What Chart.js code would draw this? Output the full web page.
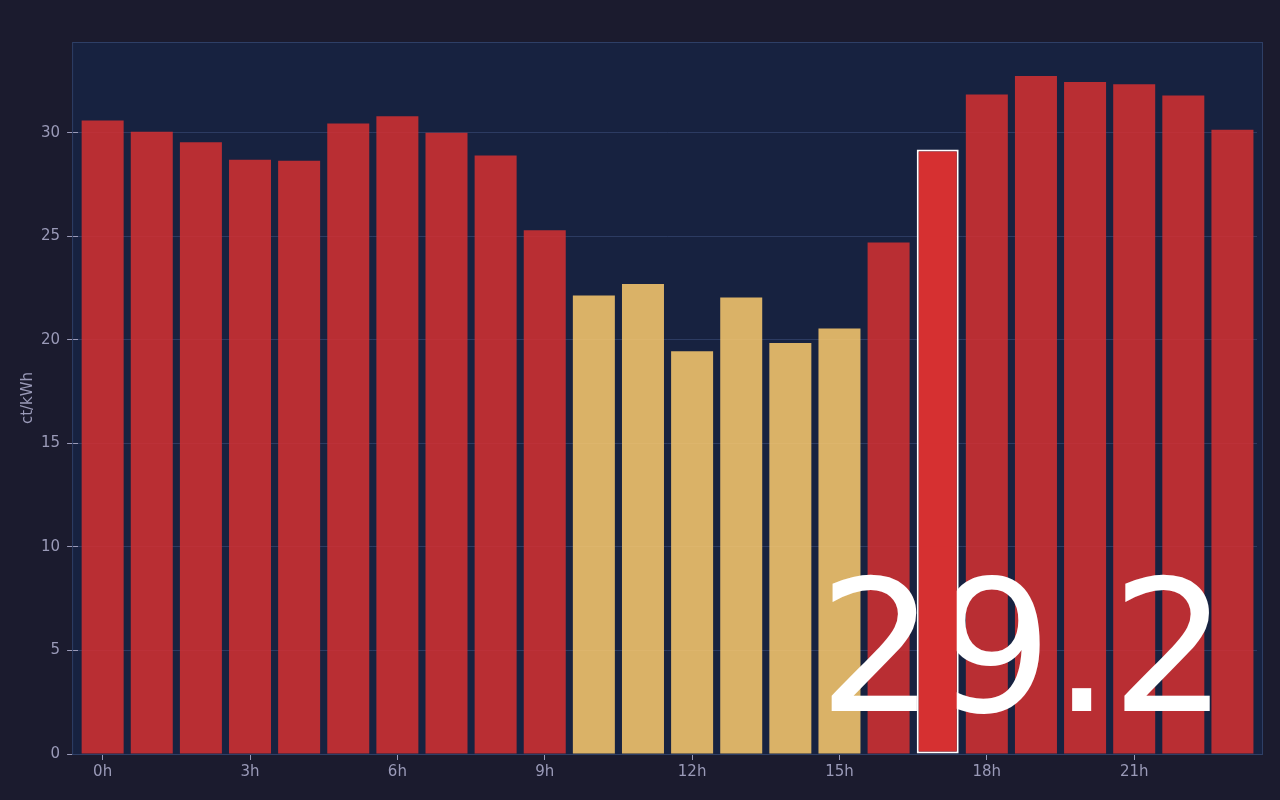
<!DOCTYPE html>
<html>
<head>
<meta charset="utf-8">
<script src="https://cdn.jsdelivr.net/npm/chart.js@4.4.1/dist/chart.umd.min.js"></script>
<style>
  html, body { margin: 0; padding: 0; background: #1b1b2e; }
  #wrap { width: 1280px; height: 800px; }
</style>
</head>
<body>
<div id="wrap"><canvas id="priceChart"></canvas></div>
<script>
// hourly prices, ct/kWh
var hours = ['0h','1h','2h','3h','4h','5h','6h','7h','8h','9h','10h','11h',
             '12h','13h','14h','15h','16h','17h','18h','19h','20h','21h','22h','23h'];
var prices = [30.6, 30.05, 29.55, 28.7, 28.65, 30.45, 30.8, 30.0, 28.9, 25.3, 22.15, 22.7,
              19.45, 22.05, 19.85, 20.55, 24.7, 29.2, 31.85, 32.75, 32.45, 32.35, 31.8, 30.15];
var cheapHours = [10, 11, 12, 13, 14, 15];
var currentHour = 17;

// other hours, and the current hour on its own so it can sit above the big number
var otherPrices = prices.map(function (v, i) { return i === currentHour ? null : v; });
var nowPrices = prices.map(function (v, i) { return i === currentHour ? v : null; });
var barColors = prices.map(function (v, i) {
    return cheapHours.indexOf(i) >= 0 ? 'rgba(253,203,110,0.85)' : 'rgba(214,48,49,0.85)';
});

// panel is a bit wider than the bar area
var SIDE = 6;
var plotBg = {
    id: 'plotBg',
    beforeDraw: function (chart) {
        var a = chart.chartArea, c = chart.ctx;
        c.save();
        c.fillStyle = '#172240';
        c.fillRect(a.left - SIDE, a.top, a.right - a.left + 2 * SIDE, a.bottom - a.top);
        c.restore();
    },
    afterDraw: function (chart) {
        var a = chart.chartArea, c = chart.ctx;
        c.save();
        c.strokeStyle = '#2e3f66';
        c.lineWidth = 1;
        c.strokeRect(a.left - SIDE + 0.5, a.top + 0.5, a.right - a.left + 2 * SIDE - 1, a.bottom - a.top);
        c.restore();
    }
};

// big current value, drawn after the ordinary bars but under the current-hour bar
var bigValue = {
    id: 'bigValue',
    afterDatasetDraw: function (chart, args) {
        if (args.index !== 0) return;
        var a = chart.chartArea, c = chart.ctx;
        c.save();
        c.fillStyle = '#ffffff';
        c.font = '184px "DejaVu Sans"';
        c.textAlign = 'right';
        c.textBaseline = 'alphabetic';
        c.fillText(prices[currentHour].toFixed(1), a.right - 29, a.bottom - 43);
        c.restore();
    }
};

var ctx = document.getElementById('priceChart').getContext('2d');
var priceChart = new Chart(ctx, {
    type: 'bar',
    data: {
        labels: hours,
        datasets: [{
            label: 'ct/kWh',
            data: otherPrices,
            backgroundColor: barColors,
            borderWidth: 0,
            barPercentage: 0.855,
            categoryPercentage: 1.0,
            order: 1
        }, {
            label: 'jetzt',
            data: nowPrices,
            backgroundColor: '#d63031',
            borderColor: '#ffffff',
            borderWidth: 2,
            borderSkipped: false,
            barPercentage: 0.855,
            categoryPercentage: 1.0,
            order: 0
        }]
    },
    options: {
        responsive: true,
        maintainAspectRatio: false,
        animation: false,
        layout: { padding: { top: 42, right: 23, left: 15, bottom: 16 } },
        plugins: {
            legend: { display: false },
            tooltip: { enabled: false }
        },
        scales: {
            x: {
                stacked: true,
                grid: { offset: false, drawOnChartArea: false, color: '#9a9ab8', tickLength: 6 },
                border: { display: false },
                ticks: {
                    color: '#9a9ab8',
                    font: { family: 'DejaVu Sans', size: 15 },
                    autoSkip: false,
                    maxRotation: 0,
                    callback: function (val, i) { return i % 3 === 0 ? hours[i] : null; }
                }
            },
            y: {
                min: 0,
                max: Math.max.apply(null, prices) * 1.05,
                grid: { color: 'rgba(70,90,140,0.45)', tickColor: '#9a9ab8', tickLength: 11 },
                border: { display: false },
                ticks: {
                    color: '#9a9ab8',
                    stepSize: 5,
                    padding: 7,
                    includeBounds: false,
                    font: { family: 'DejaVu Sans', size: 15 }
                },
                title: {
                    display: true,
                    text: 'ct/kWh',
                    color: '#9a9ab8',
                    padding: { top: 4, bottom: -3 },
                    font: { family: 'DejaVu Sans', size: 15 }
                }
            }
        }
    },
    plugins: [plotBg, bigValue]
});
</script>
</body>
</html>
